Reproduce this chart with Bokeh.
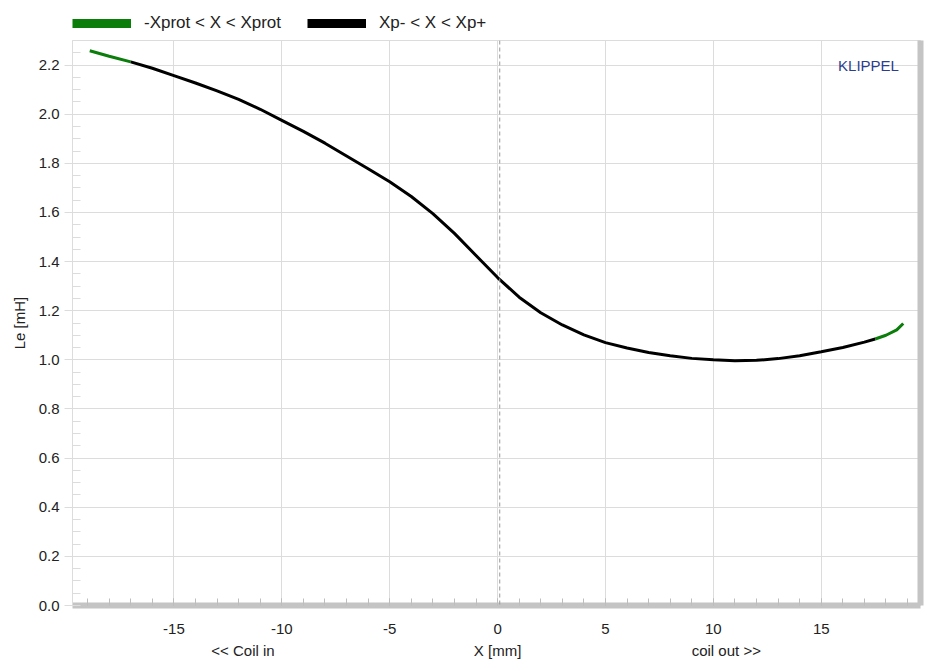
from bokeh.plotting import figure
from bokeh.layouts import column
from bokeh.models import (Legend, LegendItem, LinearAxis, FixedTicker, Span, Label,
                          Range1d, PrintfTickFormatter)
from bokeh.embed import file_html
from bokeh.resources import INLINE

# ---- data ----
x_mm = [-18.9, -18, -17, -16, -15, -14, -13, -12, -11, -10, -9, -8, -7, -6, -5, -4,
        -3, -2, -1, 0, 1, 2, 3, 4, 5, 6, 7, 8, 9, 10, 11, 12, 13, 14, 15, 16, 17,
        17.5, 18, 18.5, 18.8]
le_mH = [2.258, 2.236, 2.213, 2.187, 2.157, 2.127, 2.095, 2.06, 2.02, 1.975, 1.93,
         1.882, 1.83, 1.778, 1.725, 1.665, 1.595, 1.515, 1.425, 1.335, 1.255, 1.192,
         1.142, 1.102, 1.07, 1.048, 1.03, 1.017, 1.006, 1.0, 0.996, 0.998, 1.005,
         1.017, 1.033, 1.05, 1.072, 1.085, 1.1, 1.122, 1.148]
xp_minus = -17.0     # black segment limits (Xp- < X < Xp+)
xp_plus = 17.5
x_ticks = [-15, -10, -5, 0, 5, 10, 15]
y_ticks = [0.0, 0.2, 0.4, 0.6, 0.8, 1.0, 1.2, 1.4, 1.6, 1.8, 2.0, 2.2]
legend_labels = ["-Xprot < X < Xprot", "Xp- < X < Xp+"]
bottom_texts = {-11.8: "<< Coil in", 0: "X [mm]", 10.6: "coil out >>"}

FONT = "Liberation Sans"
FS = "15px"
GREEN = "#0a7d0a"
GRID = "#dcdcdc"
SHADOW = "#c4c4c4"
TXT = "#222222"

# ---------- legend strip ----------
lf = figure(width=925, height=34, output_backend="svg", toolbar_location=None,
            x_range=Range1d(0, 1), y_range=Range1d(0, 1),
            min_border=0, x_axis_location=None, y_axis_location=None)
lf.outline_line_color = None
lf.grid.visible = False
lg_g = lf.line([-100, -99], [-100, -99], line_color=GREEN, line_width=9)
lg_k = lf.line([-100, -99], [-100, -99], line_color="black", line_width=9)
legend = Legend(items=[LegendItem(label=legend_labels[0], renderers=[lg_g]),
                       LegendItem(label=legend_labels[1], renderers=[lg_k])],
                orientation="horizontal", location=(0, 1))
legend.glyph_width = 59
legend.glyph_height = 10
legend.label_text_font = FONT
legend.label_text_font_size = "17px"
legend.label_text_color = TXT
legend.label_standoff = 13
legend.spacing = 26
legend.padding = 0
legend.margin = 0
legend.border_line_color = None
legend.background_fill_alpha = 0
lf.add_layout(legend, "center")

# ---------- main chart ----------
p = figure(width=925, height=628, output_backend="svg", toolbar_location=None,
           x_range=Range1d(-19.7, 19.6), y_range=Range1d(0.0, 2.3),
           min_border_left=72, min_border_right=5, min_border_top=6,
           min_border_bottom=57, x_axis_location=None, y_axis_location=None)
p.outline_line_color = GRID
p.background_fill_color = "white"
p.border_fill_color = "white"

xa = LinearAxis(ticker=FixedTicker(ticks=x_ticks, minor_ticks=list(range(-19, 20))),
                formatter=PrintfTickFormatter(format="%d"))
xa.axis_line_color = SHADOW
xa.axis_line_width = 6
xa.major_tick_in = 7
xa.major_tick_out = 0
xa.minor_tick_in = 7
xa.minor_tick_out = 0
xa.major_tick_line_color = "#bdbdbd"
xa.minor_tick_line_color = "#bdbdbd"
xa.major_label_standoff = 18
xa.major_label_text_font = FONT
xa.major_label_text_font_size = FS
xa.major_label_text_color = TXT
p.add_layout(xa, "below")

xa2 = LinearAxis(ticker=FixedTicker(ticks=list(bottom_texts.keys())),
                 major_label_overrides=bottom_texts)
xa2.axis_line_color = None
xa2.major_tick_line_color = None
xa2.minor_tick_line_color = None
xa2.major_tick_in = 0
xa2.major_tick_out = 0
xa2.major_label_standoff = 5
xa2.major_label_text_font = FONT
xa2.major_label_text_font_size = FS
xa2.major_label_text_color = TXT
p.add_layout(xa2, "below")

minor_y = [round(i * 0.05, 2) for i in range(0, 47)]
ya = LinearAxis(ticker=FixedTicker(ticks=y_ticks, minor_ticks=minor_y),
                formatter=PrintfTickFormatter(format="%.1f"),
                axis_label="Le [mH]")
ya.axis_line_color = GRID
ya.major_tick_in = 0
ya.major_tick_out = 8
ya.minor_tick_in = 8
ya.minor_tick_out = 0
ya.major_tick_line_color = GRID
ya.minor_tick_line_color = GRID
ya.major_label_standoff = 5
ya.major_label_text_font = FONT
ya.major_label_text_font_size = FS
ya.major_label_text_color = TXT
ya.axis_label_text_font = FONT
ya.axis_label_text_font_size = FS
ya.axis_label_text_font_style = "normal"
ya.axis_label_text_color = TXT
ya.axis_label_standoff = 8
p.add_layout(ya, "left")

ra = LinearAxis(ticker=FixedTicker(ticks=[]))
ra.axis_line_color = SHADOW
ra.axis_line_width = 6
ra.major_tick_line_color = None
ra.minor_tick_line_color = None
p.add_layout(ra, "right")

p.xgrid.ticker = FixedTicker(ticks=x_ticks)
p.ygrid.ticker = FixedTicker(ticks=y_ticks)
p.grid.grid_line_color = GRID
p.grid.grid_line_width = 1

p.add_layout(Span(location=0.1, dimension="height", line_color="#999999",
                  line_dash="4 3", line_width=1))

left_x = [x for x in x_mm if x <= xp_minus]
left_y = [y for x, y in zip(x_mm, le_mH) if x <= xp_minus]
mid_x = [x for x in x_mm if xp_minus <= x <= xp_plus]
mid_y = [y for x, y in zip(x_mm, le_mH) if xp_minus <= x <= xp_plus]
right_x = [x for x in x_mm if x >= xp_plus]
right_y = [y for x, y in zip(x_mm, le_mH) if x >= xp_plus]

p.line(left_x, left_y, line_color=GREEN, line_width=3)
p.line(right_x, right_y, line_color=GREEN, line_width=3)
p.line(mid_x, mid_y, line_color="black", line_width=3)

p.add_layout(Label(x=18.6, y=2.2, text="KLIPPEL", text_align="right",
                   text_baseline="middle", text_font=FONT, text_font_size="15px",
                   text_color="#2b3d8c"))

layout = column(lf, p, spacing=0)
open("out.html", "w").write(file_html(layout, INLINE))
